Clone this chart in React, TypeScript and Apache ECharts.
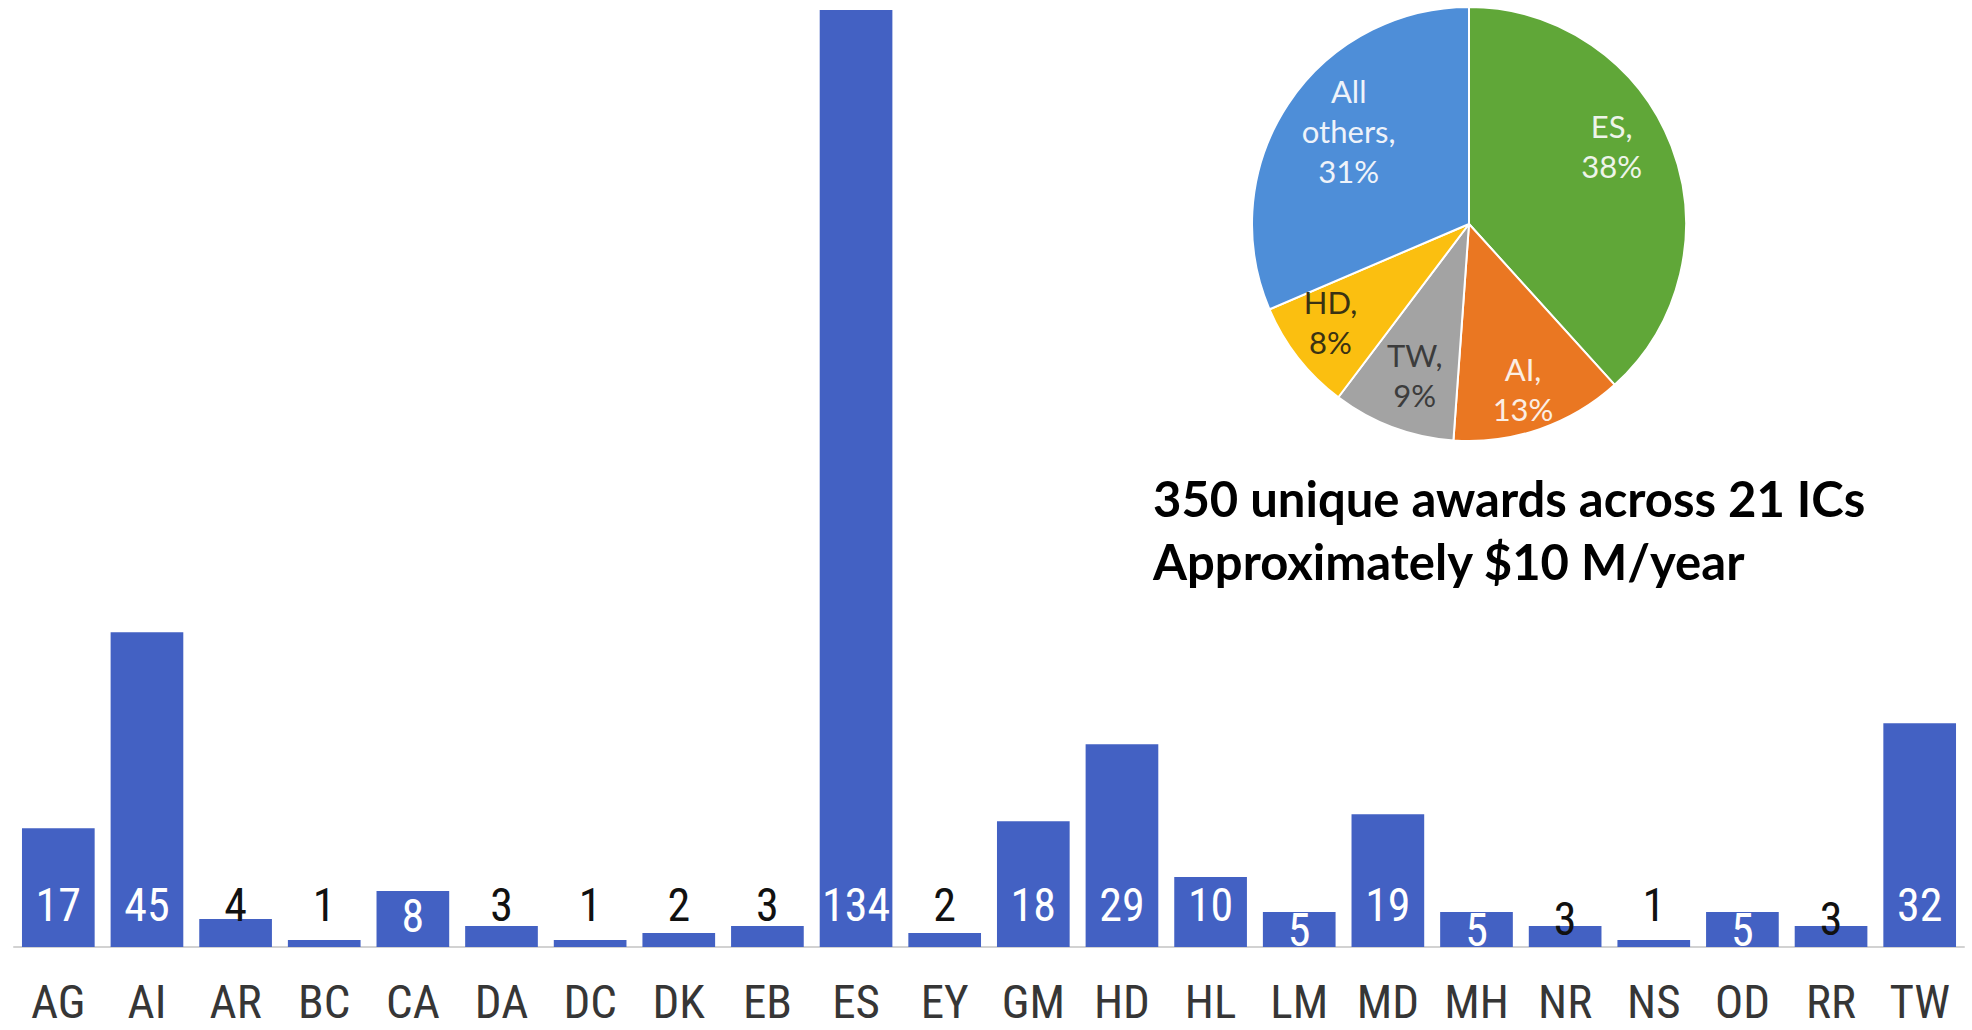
import React, { useEffect, useRef } from "react";
import * as echarts from "echarts";

// Awards per institute code
const categories = ["AG", "AI", "AR", "BC", "CA", "DA", "DC", "DK", "EB", "ES", "EY", "GM", "HD", "HL", "LM", "MD", "MH", "NR", "NS", "OD", "RR", "TW"];
const awardCounts = [17, 45, 4, 1, 8, 3, 1, 2, 3, 134, 2, 18, 29, 10, 5, 19, 5, 3, 1, 5, 3, 32];

// Institutes broken out in the share pie (clockwise from 12 o'clock); the rest are pooled
const pieHighlights = ["ES", "AI", "TW", "HD"];
const pooledName = "All others";

const headlineLines = ["350 unique awards across 21 ICs", "Approximately $10 M/year"];

// ---- styling ----
const BAR_COLOR = "#4361c3";
const NARROW = "'Liberation Sans Narrow', 'Roboto Condensed', 'DejaVu Sans Condensed', sans-serif";
const HUMANIST = "Lato, 'Open Sans', sans-serif";

const SLICE_COLORS: Record<string, string> = {
  ES: "#60a738",
  AI: "#ea7722",
  TW: "#a3a3a3",
  HD: "#fbbf10",
  [pooledName]: "#4e8ed8",
};
const SLICE_TEXT: Record<string, string> = {
  ES: "#eef4ea",
  AI: "#fbeee4",
  TW: "#3c3c3c",
  HD: "#3a3213",
  [pooledName]: "#eef3fa",
};
// small nudges of the pie labels [dx, dy]
const SLICE_LABEL_OFFSET: Record<string, [number, number]> = {
  ES: [-12, -18],
  AI: [0, 8],
  TW: [4, -4],
  HD: [-8, -4],
  [pooledName]: [18, -2],
};

// Value labels sit at a common height; a few are nudged lower
const LABEL_LIFT_DEFAULT = 19;
const LABEL_LIFT: Record<string, number> = { CA: 8, LM: -6, MH: -6, OD: -6, NR: 5, RR: 5 };

const PIE_CENTER: [number, number] = [1469, 224];
const PIE_R = 217;

export default function App() {
  const ref = useRef<HTMLDivElement>(null);

  useEffect(() => {
    if (!ref.current) return;
    const chart = echarts.init(ref.current, undefined, { renderer: "svg" });

    const pieData = pieHighlights.map((code) => ({
      name: code,
      value: awardCounts[categories.indexOf(code)],
    }));
    const pooled = awardCounts.reduce(
      (sum, v, i) => (pieHighlights.includes(categories[i]) ? sum : sum + v),
      0
    );
    pieData.push({ name: pooledName, value: pooled });

    const barData = awardCounts.map((v, i) => ({
      value: v,
      label: {
        color: v < 5 ? "#111111" : "#ffffff",
        distance: LABEL_LIFT[categories[i]] ?? LABEL_LIFT_DEFAULT,
      },
    }));

    chart.setOption({
      animation: false,
      backgroundColor: "#ffffff",
      grid: { left: 14, right: 8, top: 10, bottom: 83, containLabel: false },
      xAxis: {
        type: "category",
        data: categories,
        axisTick: { show: false },
        axisLine: { lineStyle: { color: "#d2d2d2", width: 2 } },
        axisLabel: {
          interval: 0,
          margin: 31,
          fontFamily: NARROW,
          fontSize: 47,
          lineHeight: 47,
          color: "#363636",
        },
      },
      yAxis: {
        type: "value",
        min: 0,
        max: 134,
        show: false,
        splitLine: { show: false },
      },
      series: [
        {
          type: "bar",
          data: barData,
          barCategoryGap: "18%",
          itemStyle: { color: BAR_COLOR },
          label: {
            show: true,
            position: "insideBottom",
            fontFamily: NARROW,
            fontSize: 46,
            lineHeight: 46,
          },
        },
        {
          type: "pie",
          center: PIE_CENTER,
          radius: PIE_R,
          startAngle: 90,
          clockwise: true,
          label: { show: false },
          labelLine: { show: false },
          data: pieData.map((d) => ({
            ...d,
            itemStyle: { color: SLICE_COLORS[d.name], borderColor: "#ffffff", borderWidth: 2 },
          })),
        },
        {
          // label-only ring: its 'inside' labels land at ~3/4 of the visible radius
          type: "pie",
          center: PIE_CENTER,
          radius: PIE_R * 1.5,
          startAngle: 90,
          clockwise: true,
          silent: true,
          labelLine: { show: false },
          label: {
            show: true,
            position: "inside",
            fontFamily: HUMANIST,
            fontSize: 31,
            lineHeight: 40,
            formatter: (p: any) => `${p.name.replace(" ", "\n")},\n${Math.round(p.percent)}%`,
          },
          data: pieData.map((d) => ({
            ...d,
            itemStyle: { color: "rgba(0,0,0,0)", borderWidth: 0 },
            label: { color: SLICE_TEXT[d.name], offset: SLICE_LABEL_OFFSET[d.name] },
          })),
        },
      ],
      graphic: headlineLines.map((line, i) => ({
        type: "text",
        x: 1153,
        y: 498 + i * 63,
        style: {
          text: line,
          fontFamily: HUMANIST,
          fontSize: 49,
          fontWeight: "bold",
          fill: "#000000",
          align: "left",
          verticalAlign: "middle",
        },
      })),
    });

    return () => chart.dispose();
  }, []);

  return (
    <div
      ref={ref}
      style={{ position: "fixed", left: 0, top: 0, width: 1972, height: 1030, background: "#ffffff" }}
    />
  );
}
